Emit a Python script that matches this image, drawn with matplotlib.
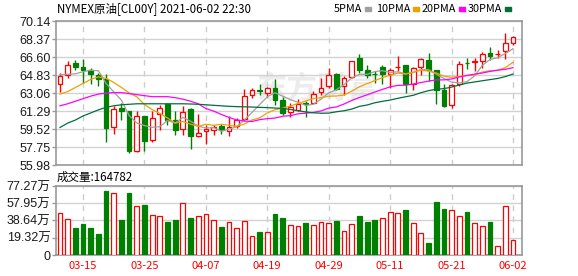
import numpy as np
import pandas as pd
import matplotlib
matplotlib.use("Agg")
import matplotlib.pyplot as plt
from matplotlib.patches import Rectangle

dates = ["03-10", "03-11", "03-12", "03-15", "03-16", "03-17", "03-18", "03-19", "03-22", "03-23",
         "03-24", "03-25", "03-26", "03-29", "03-30", "03-31", "04-01", "04-05", "04-06", "04-07",
         "04-08", "04-09", "04-12", "04-13", "04-14", "04-15", "04-16", "04-19", "04-20", "04-21",
         "04-22", "04-23", "04-26", "04-27", "04-28", "04-29", "04-30", "05-03", "05-04", "05-05",
         "05-06", "05-07", "05-10", "05-11", "05-12", "05-13", "05-14", "05-17", "05-18", "05-19",
         "05-20", "05-21", "05-24", "05-25", "05-26", "05-27", "05-28", "05-31", "06-01", "06-02"]
tick_dates = ["03-15", "03-25", "04-07", "04-19", "04-29", "05-11", "05-21", "06-02"]

opens = [63.9, 64.8, 66.0, 65.6, 65.3, 64.8, 64.45, 59.7, 61.6, 61.25,
         57.4, 60.75, 58.45, 60.95, 62.0, 60.45, 59.5, 61.5, 58.8, 59.3,
         59.45, 59.8, 59.3, 59.8, 60.5, 62.9, 63.4, 63.05, 63.55, 62.4,
         61.15, 61.4, 62.1, 62.1, 63.15, 63.7, 64.95, 63.7, 64.6, 66.5,
         65.35, 64.95, 65.6, 64.95, 65.6, 65.8, 63.9, 65.6, 66.3, 65.3,
         63.4, 61.9, 63.9, 66.05, 66.15, 66.25, 67.0, 66.85, 67.15, 68.0]
closes = [64.7, 65.85, 65.65, 65.35, 64.95, 64.45, 59.6, 61.5, 61.3, 57.4,
          60.75, 58.35, 60.65, 61.6, 60.45, 59.45, 61.15, 58.8, 59.15, 59.5,
          59.7, 59.4, 59.7, 60.45, 62.75, 63.4, 63.3, 63.55, 62.4, 61.1,
          61.7, 62.0, 62.0, 62.95, 63.6, 64.85, 63.5, 64.55, 66.2, 65.35,
          64.85, 64.9, 64.95, 65.35, 65.65, 63.9, 65.5, 66.4, 65.35, 63.4,
          61.75, 63.8, 65.95, 66.0, 66.2, 66.9, 66.7, 66.9, 68.0, 68.55]
highs = [65.0, 66.25, 66.3, 66.45, 65.5, 65.05, 64.95, 61.75, 62.1, 61.3,
         61.25, 60.8, 61.3, 61.85, 62.1, 61.25, 61.75, 61.55, 60.95, 59.95,
         59.9, 60.0, 60.75, 60.65, 63.5, 63.6, 63.9, 63.65, 64.45, 62.65,
         62.1, 62.45, 62.25, 63.3, 64.55, 65.5, 65.0, 64.7, 66.2, 66.85,
         65.85, 65.25, 65.85, 65.5, 66.65, 65.8, 65.6, 66.55, 67.0, 65.3,
         63.9, 63.95, 66.2, 66.5, 66.5, 67.05, 67.55, 67.3, 68.95, 68.65]
lows = [63.2, 64.55, 65.35, 64.05, 63.9, 63.7, 58.25, 59.0, 60.45, 57.15,
        57.3, 57.4, 58.25, 59.45, 59.95, 58.95, 58.9, 57.6, 58.7, 58.05,
        58.9, 59.0, 58.8, 59.6, 60.35, 62.55, 62.9, 62.65, 61.9, 60.85,
        60.7, 61.25, 60.7, 62.0, 62.9, 63.55, 63.4, 62.85, 64.5, 65.0,
        64.55, 64.05, 63.95, 63.6, 65.2, 63.05, 63.4, 64.85, 64.25, 62.0,
        61.65, 61.6, 63.7, 65.45, 65.2, 65.5, 66.35, 66.55, 66.45, 67.8]

# moving average values before enough closes are on screen
ma5_head = [64.85, 64.9, 64.95, 65.15]
ma10_head = [62.95, 63.2, 63.6, 64.0, 64.4, 64.65, 64.5, 64.1, 63.6]
ma20_head = [61.8, 62.0, 62.25, 62.5, 62.75, 62.95, 63.05, 63.1, 63.1, 63.0,
             62.9, 62.8, 62.7, 62.7, 62.7, 62.6, 62.45, 62.25, 62.0]
ma30_head = [59.67, 60.1, 60.4, 60.8, 61.1, 61.4, 61.65, 61.8, 61.9, 61.95,
             62.0, 62.0, 62.0, 62.0, 62.0, 62.0, 62.0, 61.98, 61.95, 61.9,
             61.85, 61.8, 61.75, 61.72, 61.7, 61.68, 61.65, 61.62, 61.58]

# volume in 万
volume = [46.7, 40.0, 29.9, 34.7, 30.2, 23.5, 71.7, 69.1, 39.2, 69.4,
          54.9, 56.0, 44.8, 43.3, 37.0, 39.2, 57.9, 41.4, 43.3, 45.5,
          38.8, 31.0, 36.6, 29.9, 37.7, 20.9, 25.8, 25.4, 45.9, 41.4,
          33.2, 32.1, 35.8, 33.2, 36.6, 35.5, 38.1, 26.5, 34.4, 43.7,
          37.0, 39.2, 41.1, 47.8, 46.7, 50.0, 35.5, 24.3, 13.1, 59.0,
          51.2, 50.0, 43.3, 47.8, 35.5, 32.1, 36.6, 9.7, 54.5, 16.48]
vol_up = [1, 1, 0, 0, 0, 0, 0, 1, 0, 0, 1, 0, 1, 1, 0, 0, 1, 0, 1,
          1, 1, 0, 1, 1, 1, 1, 0, 1, 0, 0, 1, 1, 0, 1, 1, 1, 0, 1, 1, 0, 0, 0,
          1, 1, 1, 0, 1, 1, 0, 0, 0, 1, 1, 0, 1, 1, 0, 1, 1, 1]

price_ticks = [55.98, 57.75, 59.52, 61.29, 63.06, 64.83, 66.60, 68.37, 70.14]
vol_ticks = [0, 19.32, 38.64, 57.95, 77.27]
vol_labels = ["0", "19.32万", "38.64万", "57.95万", "77.27万"]

RED = "#ff0000"
GREEN = "#008000"
BORDER = "#999999"
GRID = "#d2d2d2"
ma_colors = {"5PMA": "#a0a0a0", "10PMA": "#f0a000", "20PMA": "#ff00ff", "30PMA": "#006f3c"}

o = np.array(opens)
c = np.array(closes)
h = np.array(highs)
l = np.array(lows)
x = np.arange(len(c))
up = c >= o

cs = pd.Series(c)
ma = {}
for name, n, head in [("5PMA", 5, ma5_head), ("10PMA", 10, ma10_head),
                      ("20PMA", 20, ma20_head), ("30PMA", 30, ma30_head)]:
    s = cs.rolling(n).mean().to_numpy()
    s[:n - 1] = head
    ma[name] = s

W, H = 578, 276
fig = plt.figure(figsize=(W / 100, H / 100), dpi=100)
ax = fig.add_axes([56 / W, 1 - 165 / H, 466 / W, 144 / H])
axv = fig.add_axes([56 / W, 1 - 255 / H, 466 / W, 69 / H], sharex=ax)

cjk = ["Noto Sans CJK SC", "DejaVu Sans"]
num = ["Liberation Sans", "Noto Sans CJK SC"]

# candles
col = np.where(up, RED, GREEN)
ax.vlines(x, l, h, colors=col, lw=1.0, zorder=3)
body = np.maximum(np.abs(c - o), 0.02)
ax.bar(x, body, bottom=np.minimum(o, c), width=0.62,
       color=np.where(up, "white", GREEN), edgecolor=col, lw=0.9, zorder=4)

for name, s in ma.items():
    ax.plot(x, s, color=ma_colors[name], lw=0.9, zorder=5)

ax.text(0.56, 0.53, "东方财富", transform=ax.transAxes, fontsize=22, weight="bold",
        color="#ececec", family=cjk, ha="center", va="center", zorder=0.5)

# volume
vu = np.array(vol_up, dtype=bool)
axv.bar(x, volume, width=0.62, color=np.where(vu, "white", GREEN),
        edgecolor=np.where(vu, RED, GREEN), lw=0.9, zorder=3)

tick_idx = [dates.index(d) for d in tick_dates]
for a in (ax, axv):
    a.set_xlim(-0.52, len(c) - 1 + 1.17)
    a.set_xticks(tick_idx)
    a.xaxis.grid(True, color="#cccccc", ls=(0, (4, 4)), lw=1.0)
    a.yaxis.grid(True, color=GRID, lw=1.0)
    a.set_axisbelow(True)
    for sp in a.spines.values():
        sp.set_color(BORDER)
        sp.set_linewidth(1.2)
    a.tick_params(axis="y", length=3, width=1, color=BORDER, pad=1,
                  labelsize=9, labelcolor="#1a1a1a")

ax.set_ylim(price_ticks[0], price_ticks[-1])
ax.set_yticks(price_ticks)
ax.set_yticklabels([f"{v:.2f}" for v in price_ticks], family=num)
ax.tick_params(axis="x", length=0, labelbottom=False)

axv.set_ylim(0, vol_ticks[-1])
axv.set_yticks(vol_ticks)
axv.set_yticklabels(vol_labels, family=num)
axv.set_xticklabels(tick_dates, family=cjk, fontsize=8, color=RED)
axv.tick_params(axis="x", length=0, pad=4)

fig.text(57 / W, 1 - 9 / H, "NYMEX原油[CL00Y] 2021-06-02 22:30", family=cjk,
         fontsize=8.3, va="center", ha="left", color="black")
fig.text(57 / W, 1 - 177 / H, "成交量:164782", family=cjk,
         fontsize=8.3, va="center", ha="left", color="black")

# legend: label ends just before its colour chip
legend_items = [("5PMA", 365), ("10PMA", 413), ("20PMA", 459), ("30PMA", 505)]
for name, mx in legend_items:
    fig.text((mx - 3) / W, 1 - 9 / H, name, family=cjk, fontsize=7.8, va="center", ha="right")
    fig.patches.append(Rectangle((mx / W, 1 - 10.5 / H), 6 / W, 3.5 / H,
                                 transform=fig.transFigure, color=ma_colors[name]))

fig.savefig("out.png", dpi=100)
